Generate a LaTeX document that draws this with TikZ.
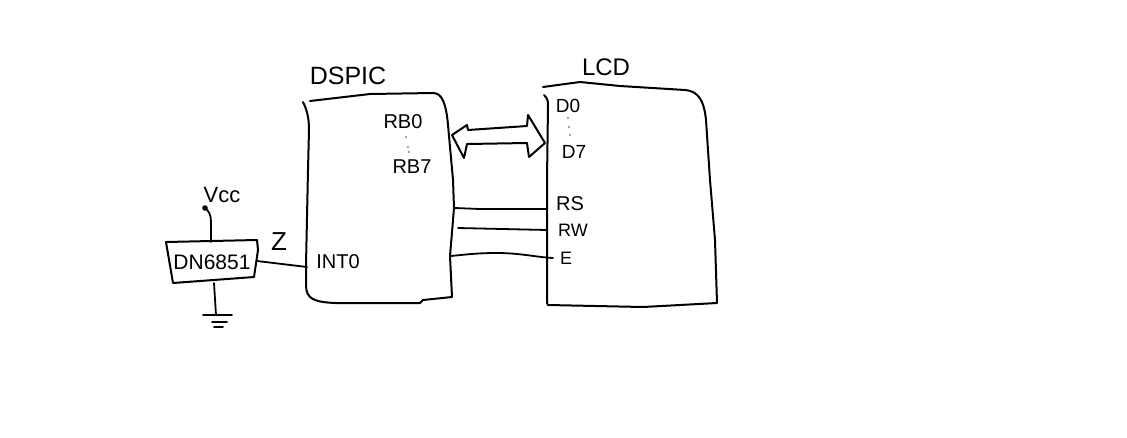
\documentclass[tikz,border=0pt]{standalone}
\usepackage{fontspec}
\setmainfont{Liberation Sans}
\newcommand{\lab}[1]{\fontsize{#1}{#1}\selectfont}
\tikzset{
  sk/.style={draw=black,line width=2pt,line cap=round,line join=round},
  wire/.style={draw=black,line width=1.8pt,line cap=round,line join=round},
  lbl/.style={inner sep=0pt,text=black},
  dotm/.style={circle,fill=black!70,inner sep=0pt,minimum size=1.8pt}
}
\begin{document}
\begin{tikzpicture}[x=1pt,y=-1pt]
\useasboundingbox[fill=white] (0,0) rectangle (1127,437);
% DSPIC outline
\path[sk] (303,102) .. controls (307,110) and (309,118) .. (309,130)
  -- (308,170) -- (306,265) -- (306,285)
  .. controls (306,299) and (314,302) .. (335,303)
  -- (420,303) -- (423,300) -- (452,297) -- (450,256) -- (454,208) -- (453,180)
  -- (448,125) .. controls (446,103) and (442,93) .. (433,93) -- (370,94) -- (310,101);
% LCD outline
\path[sk] (544,95) .. controls (547,98) and (548,100) .. (548,105) -- (547,180) -- (547,303) -- (548,305)
  -- (643,307) -- (717,303) -- (715,240) -- (710,180) -- (706,120)
  .. controls (704,100) and (698,91) .. (685,90) -- (620,86) -- (580,82) -- (543,87);
% bus arrow
\path[sk] (452,135) -- (467,125) -- (468,130) -- (527,126) -- (528,115) -- (545,143)
  -- (529,157) -- (527,143) -- (467,144) -- (464,158) -- cycle;
% connector ends
\coordinate (rsA) at (455,208); \coordinate (rsB) at (547,209);
\coordinate (rwA) at (458,228); \coordinate (rwB) at (547,230);
\coordinate (eA) at (451,256);  \coordinate (eB) at (553,258);
\coordinate (icR) at (257,261); \coordinate (into) at (307,267);
\coordinate (icT) at (211,242); \coordinate (vccDot) at (205,208);
\coordinate (icB) at (214,283); \coordinate (gnd) at (216,315);
\path[wire] (rsA) -- (480,209) -- (rsB);
\path[wire] (rwA) -- (rwB);
\path[wire] (eA) .. controls (470,254) and (480,253) .. (497,253) .. controls (520,253) and (535,257) .. (eB);
\path[wire] (icR) -- (into);
% chip body
\path[sk] (166,242) -- (257,240) -- (258,250) -- (254,277) -- (173,283) -- cycle;
% Vcc lead
\path[wire] (icT) -- (211,222) .. controls (211,215) and (209,211) .. (vccDot);
\fill (vccDot) circle (2.8pt);
% ground
\path[wire] (icB) -- (gnd);
\path[wire] (203,315) -- (gnd) -- (232,315);
\path[wire] (212,322) -- (227,322);
\path[wire] (214,327) -- (223,327);
% labels
\node[lbl] (dspic) at (348,76) {\lab{25}DSPIC};
\node[lbl] (lcd) at (606,67) {\lab{24}LCD};
\node[lbl] (rbz) at (403,122) {\lab{20}RB0};
\node[lbl] (rbs) at (412,167) {\lab{20}RB7};
\node[lbl] (dz) at (568,106) {\lab{19}D0};
\node[lbl] (ds) at (574,152) {\lab{19}D7};
\node[lbl] (rs) at (570,204) {\lab{20}RS};
\node[lbl] (rw) at (573,230) {\lab{18}RW};
\node[lbl] (e) at (566,258) {\lab{18}E};
\node[lbl] (intz) at (338,262) {\lab{20}INT0};
\node[lbl] (dn) at (212,262) {\lab{21}DN6851};
\node[lbl] (vcc) at (222,195) {\lab{22}Vcc};
\node[lbl] (zz) at (279,242) {\lab{26}Z};
\foreach \n/\p in {a/{406,137},b/{408,147},c/{409,152},d/{568,118},f/{569,127},g/{570,135}}
  \node[dotm] (dot\n) at (\p) {};
\end{tikzpicture}
\end{document}
